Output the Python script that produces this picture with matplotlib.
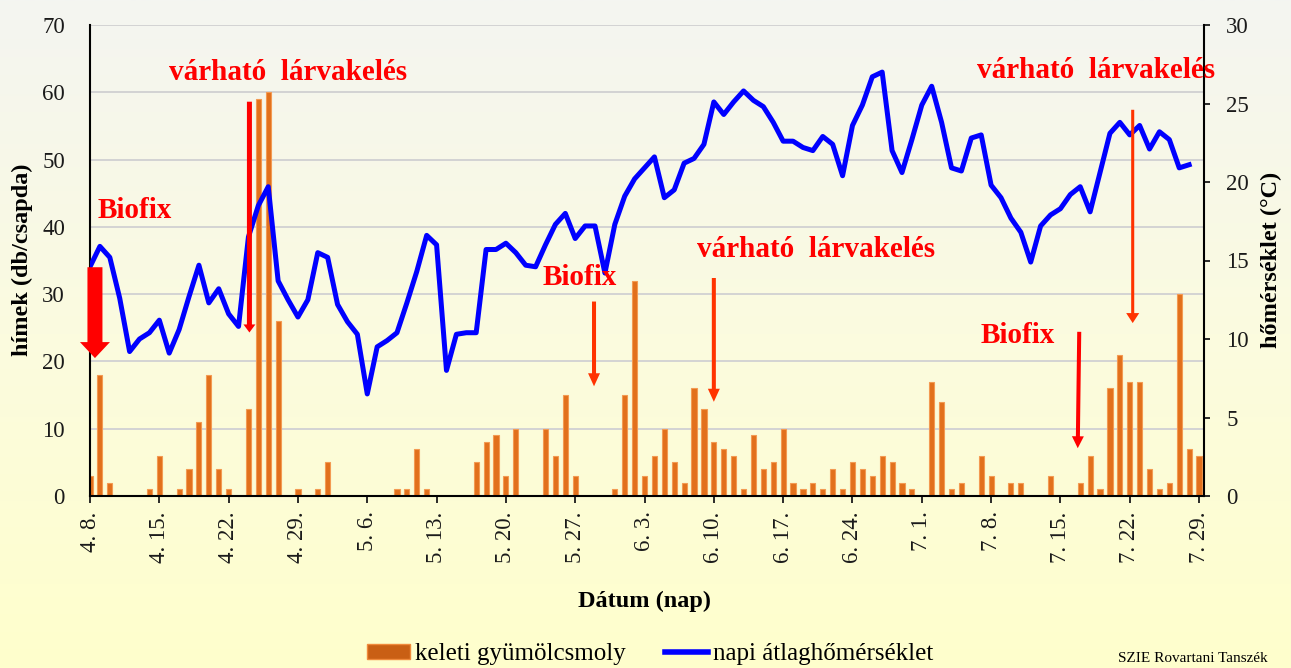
import numpy as np
import matplotlib
matplotlib.use('Agg')
import matplotlib.pyplot as plt
from matplotlib.colors import LinearSegmentedColormap
from matplotlib.patches import Patch
from matplotlib.lines import Line2D

plt.rcParams['font.family'] = ['Liberation Serif', 'DejaVu Serif']

# daily trap catches, 4.8. -> 7.29.
moth_counts = [3, 18, 2, 0, 0, 0, 1, 6, 0, 1, 4, 11, 18, 4, 1, 0, 13, 59, 60, 26,
               0, 1, 0, 1, 5, 0, 0, 0, 0, 0, 0, 1, 1, 7, 1, 0, 0, 0, 0, 5,
               8, 9, 3, 10, 0, 0, 10, 6, 15, 3, 0, 0, 0, 1, 15, 32, 3, 6, 10, 5,
               2, 16, 13, 8, 7, 6, 1, 9, 4, 5, 10, 2, 1, 2, 1, 4, 1, 5, 4, 3,
               6, 5, 2, 1, 0, 17, 14, 1, 2, 0, 6, 3, 0, 2, 2, 0, 0, 3, 0, 0,
               2, 6, 1, 16, 21, 17, 17, 4, 1, 2, 30, 7, 6]

# daily mean temperature (°C), 4.8. -> 7.28.
temps = [14.6, 15.9, 15.2, 12.6, 9.2, 10.0, 10.4, 11.2, 9.1, 10.6, 12.7, 14.7, 12.3, 13.2,
         11.6, 10.8, 16.5, 18.5, 19.7, 13.7, 12.5, 11.4, 12.5, 15.5, 15.2, 12.2, 11.1, 10.3,
         6.5, 9.5, 9.9, 10.4, 12.3, 14.3, 16.6, 16.0, 8.0, 10.3, 10.4, 10.4, 15.7, 15.7,
         16.1, 15.5, 14.7, 14.6, 16.0, 17.3, 18.0, 16.4, 17.2, 17.2, 14.2, 17.3, 19.1, 20.2,
         20.9, 21.6, 19.0, 19.5, 21.2, 21.5, 22.4, 25.1, 24.3, 25.1, 25.8, 25.2, 24.8, 23.8,
         22.6, 22.6, 22.2, 22.0, 22.9, 22.4, 20.4, 23.6, 24.9, 26.7, 27.0, 22.0, 20.6, 22.7,
         24.9, 26.1, 23.8, 20.9, 20.7, 22.8, 23.0, 19.8, 19.0, 17.7, 16.8, 14.9, 17.2, 17.9,
         18.3, 19.2, 19.7, 18.1, 20.6, 23.1, 23.8, 23.0, 23.6, 22.1, 23.2, 22.7, 20.9, 21.1]

date_labels = ['4. 8.', '4. 15.', '4. 22.', '4. 29.', '5. 6.', '5. 13.', '5. 20.', '5. 27.',
               '6. 3.', '6. 10.', '6. 17.', '6. 24.', '7. 1.', '7. 8.', '7. 15.', '7. 22.', '7. 29.']

W, H = 1291, 668
fig = plt.figure(figsize=(W / 100, H / 100), dpi=100)

# background gradient
bg = fig.add_axes([0, 0, 1, 1], zorder=-10)
cmap = LinearSegmentedColormap.from_list('bg', [(0, '#f4f5f1'), (0.5, '#fbfbdf'), (1, '#ffffcc')])
bg.imshow(np.linspace(0, 1, 256).reshape(-1, 1), aspect='auto', cmap=cmap,
          extent=[0, 1, 0, 1], origin='upper')
bg.axis('off')

ax = fig.add_axes([90 / W, 1 - 496 / H, 1114 / W, 471 / H])
ax.set_facecolor('none')
days = np.arange(len(moth_counts))
ax.bar(days, moth_counts, width=0.52, color='#e2701c', edgecolor='#f39a52', lw=0.8, zorder=2)
ax.set_xlim(0, 112.5)
ax.set_ylim(0, 70)
ax.set_yticks(range(0, 71, 10))
ax.grid(axis='y', color='#d3d3d3', lw=1.4)
ax.set_axisbelow(True)
ax.set_xticks(range(0, len(moth_counts), 7))
ax.set_xticklabels(date_labels, rotation=90)
ax.tick_params(axis='x', direction='out', length=5, width=1.3, pad=6, labelsize=16.5, colors='#1a1a1a')
ax.tick_params(axis='y', length=0, pad=18, labelsize=16.5, colors='#1a1a1a')
for s in ['top', 'right']:
    ax.spines[s].set_visible(False)
for s in ['left', 'bottom']:
    ax.spines[s].set_linewidth(1.5)

ax2 = ax.twinx()
ax2.plot(days[:len(temps)], temps, color='#0000ff', lw=3.6, zorder=3)
ax2.set_ylim(0, 30)
ax2.set_yticks(range(0, 31, 5))
ax2.tick_params(axis='y', direction='out', length=4, width=1.3, pad=12, labelsize=16.5, colors='#1a1a1a')
for s in ['top', 'left', 'bottom']:
    ax2.spines[s].set_visible(False)
ax2.spines['right'].set_linewidth(1.5)


def down_arrow(x0, y0, x1, y1, color, tail, hw, hl):
    ax2.annotate('', xy=(x1, y1), xytext=(x0, y0), xycoords=ax.transData, textcoords=ax.transData,
                 arrowprops=dict(arrowstyle=f'simple,head_length={hl},head_width={hw},tail_width={tail}',
                                 mutation_scale=1, color=color, lw=0, shrinkA=0, shrinkB=0),
                 annotation_clip=False)


down_arrow(0.5, 34.0, 0.5, 20.5, '#ff0000', 10.8, 21.6, 11.5)
down_arrow(16.1, 58.6, 16.1, 24.3, '#ff0000', 3.6, 8.6, 5.8)
down_arrow(50.9, 28.9, 50.9, 16.3, '#ff3300', 2.9, 8.6, 9.4)
down_arrow(63.0, 32.4, 63.0, 14.0, '#ff3300', 2.9, 8.6, 9.4)
down_arrow(105.3, 57.4, 105.3, 25.7, '#ff3300', 2.2, 9.4, 7.2)
down_arrow(99.9, 24.4, 99.75, 7.1, '#ff0000', 2.9, 8.6, 8.6)

notes = [(8.0, 62.9, 'várható  lárvakelés'), (0.8, 42.4, 'Biofix'),
         (45.7, 32.5, 'Biofix'), (61.3, 36.7, 'várható  lárvakelés'),
         (89.6, 63.3, 'várható  lárvakelés'), (89.9, 23.8, 'Biofix')]
for x, y, s in notes:
    ax2.text(x, y, s, transform=ax.transData, color='#ff0000', fontsize=21, fontweight='bold',
             ha='left', va='center', zorder=5, clip_on=False)

fig.text(22 / W, 1 - 260 / H, 'hímek (db/csapda)', rotation=90, ha='center', va='center',
         fontsize=17.5, fontweight='bold')
fig.text(1271 / W, 1 - 260 / H, 'hőmérséklet (°C)', rotation=90, ha='center', va='center',
         fontsize=17.5, fontweight='bold')
fig.text(645 / W, 1 - 601 / H, 'Dátum (nap)', ha='center', va='center', fontsize=17.5, fontweight='bold')

handles = [Patch(facecolor='#c95f14', edgecolor='#f08a3c', lw=1),
           Line2D([], [], color='#0000ff', lw=4)]
fig.legend(handles, ['keleti gyümölcsmoly', 'napi átlaghőmérséklet'], loc='center',
           bbox_to_anchor=(650 / W, 1 - 654 / H), ncol=2, frameon=False, fontsize=18,
           handlelength=1.7, handleheight=0.55, handletextpad=0.2, columnspacing=1.6)

fig.text(1118 / W, 1 - 665 / H, 'SZIE Rovartani Tanszék', ha='left', va='bottom', fontsize=11)

fig.savefig('out.png', dpi=100)
